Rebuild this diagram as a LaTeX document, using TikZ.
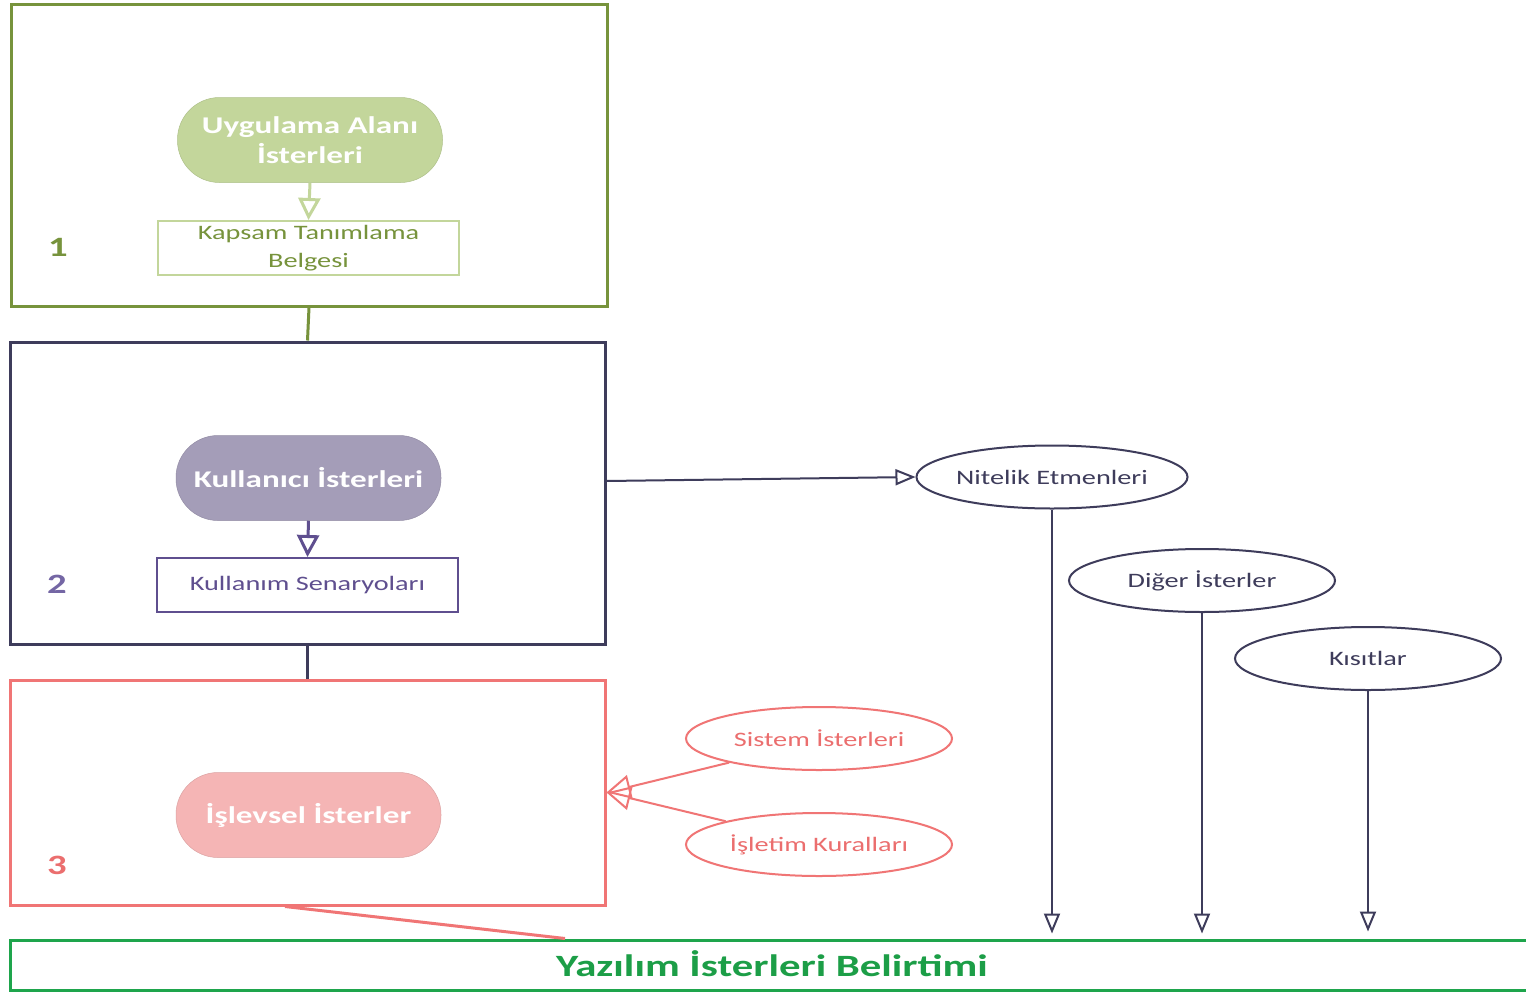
\documentclass[tikz,border=0pt]{standalone}
\usepackage{fontspec}
\setmainfont{Carlito}[FakeStretch=1.38]
\usetikzlibrary{arrows.meta,shapes.geometric,calc}
\definecolor{olive}{HTML}{77933C}
\definecolor{lgreen}{HTML}{C3D69B}
\definecolor{dpurple}{HTML}{3E3C5B}
\definecolor{mpurple}{HTML}{5F4F8F}
\definecolor{npurple}{HTML}{7466A4}
\definecolor{fpurple}{HTML}{A49DB8}
\definecolor{salmon}{HTML}{F07575}
\definecolor{fsalmon}{HTML}{F5B5B5}
\definecolor{rtext}{HTML}{EB6E6E}
\definecolor{ggreen}{HTML}{1EA54C}
\definecolor{gtext}{HTML}{1C9E47}
\tikzset{
  outerbox/.style={draw, line width=3pt, rectangle, inner sep=0pt},
  innerbox/.style={draw, line width=2pt, rectangle, inner sep=0pt, minimum width=301pt, minimum height=54pt, align=center, font=\fontsize{20.5}{28}\selectfont},
  stadium/.style={rectangle, rounded corners=42pt, minimum width=265pt, minimum height=85pt, inner sep=0pt, align=center, text=white, font=\fontsize{24}{30}\selectfont\bfseries},
  oval/.style={ellipse, draw, line width=2pt, minimum width=266pt, minimum height=63pt, inner sep=0pt, font=\fontsize{20.5}{24}\selectfont},
  numlabel/.style={font=\fontsize{28}{30}\selectfont\bfseries},
  conn/.style={line width=2pt},
  openarrow/.style={conn, -{Triangle[open, length=20pt, width=16pt, line width=2pt]}},
  bigarrow/.style={conn, line width=3pt, -{Triangle[open, length=22pt, width=22pt, line width=3pt]}},
  redarrow/.style={conn, -{Triangle[open, length=24pt, width=24pt, line width=2pt]}}
}
\begin{document}
\begin{tikzpicture}[x=1pt,y=-1pt]
\useasboundingbox[fill=white] (0,0) rectangle (1526,993);
% section 1
\node[outerbox, draw=olive, minimum width=596pt, minimum height=302pt] (box1) at (309,155) {};
\node[stadium, fill=lgreen, draw=lgreen!90!black, line width=0.5pt] (uyg) at (310,140) {Uygulama Alanı\\İsterleri};
\node[innerbox, draw=lgreen, text=olive] (kapsam) at (308.5,248) {Kapsam Tanımlama\\Belgesi};
\node[numlabel, text=olive] (n1) at (58,247) {1};
\draw[bigarrow, draw=lgreen] (uyg.south) -- (kapsam.north);
% section 2
\node[outerbox, draw=dpurple, minimum width=595pt, minimum height=302pt] (box2) at (307.5,493) {};
\node[stadium, fill=fpurple, draw=fpurple!90!black, line width=0.5pt] (kull) at (308.5,478) {Kullanıcı İsterleri};
\node[innerbox, draw=mpurple, text=mpurple] (senaryo) at (307.5,585) {Kullanım Senaryoları};
\node[numlabel, text=npurple] (n2) at (57,584) {2};
\draw[bigarrow, draw=mpurple] (kull.south) -- (senaryo.north);
% section 3
\node[outerbox, draw=salmon, minimum width=595pt, minimum height=225pt] (box3) at (307.5,792.5) {};
\node[stadium, fill=fsalmon, draw=fsalmon!90!black, line width=0.5pt] (islev) at (308.5,815) {İşlevsel İsterler};
\node[numlabel, text=rtext] (n3) at (57,865) {3};
% inter-box connectors
\draw[conn, line width=3pt, draw=olive] (box1.south) -- (box2.north);
\draw[conn, line width=3pt, draw=dpurple] (box2.south) -- (box3.north);
% bottom box
\node[outerbox, draw=ggreen, minimum width=1518pt, minimum height=50pt] (bottom) at (769,965) {};
\node[text=gtext, font=\fontsize{31}{36}\selectfont\bfseries] (btitle) at (772,964) {Yazılım İsterleri Belirtimi};
\draw[conn, line width=3pt, draw=salmon] ([xshift=-22.5pt]box3.south) -- ([xshift=-204pt]bottom.north);
% red ovals
\node[oval, draw=salmon, text=rtext] (sistem) at (819,738.5) {Sistem İsterleri};
\node[oval, draw=salmon, text=rtext] (isletim) at (819,844.5) {İşletim Kuralları};
\draw[redarrow, draw=salmon] (sistem.195) -- (box3.east);
\draw[redarrow, draw=salmon] (isletim.166) -- (box3.east);
% purple ovals
\node[oval, draw=dpurple, text=dpurple] (nitelik) at (1052,477) {Nitelik Etmenleri};
\node[oval, draw=dpurple, text=dpurple] (diger) at (1202,580.5) {Diğer İsterler};
\node[oval, draw=dpurple, text=dpurple] (kisit) at (1368,658.5) {Kısıtlar};
\draw[openarrow, draw=dpurple] ([yshift=12pt]box2.east) -- (nitelik.west);
\draw[openarrow, draw=dpurple, shorten >=5pt] (nitelik.south) -- (nitelik.south |- bottom.north);
\draw[openarrow, draw=dpurple, shorten >=5pt] (diger.south) -- (diger.south |- bottom.north);
\draw[openarrow, draw=dpurple, shorten >=7pt] (kisit.south) -- (kisit.south |- bottom.north);
\end{tikzpicture}
\end{document}
